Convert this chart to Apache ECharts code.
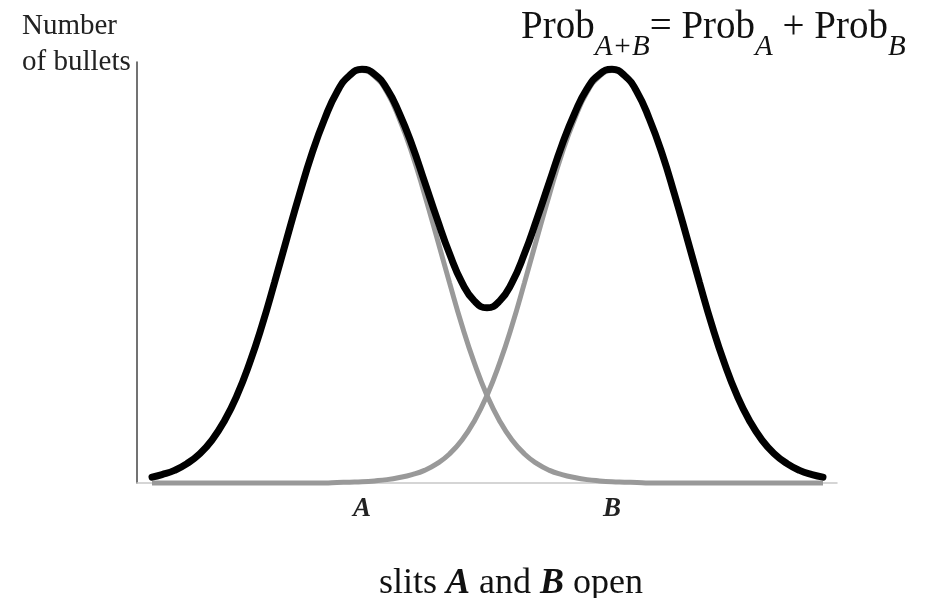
<!DOCTYPE html>
<html>
<head>
<meta charset="utf-8">
<style>
  html, body { margin: 0; padding: 0; background: #fff; }
  #chart { width: 926px; height: 598px; }
</style>
<script src="https://cdn.jsdelivr.net/npm/echarts@6.0.0/dist/echarts.min.js"></script>
</head>
<body>
<div id="chart"></div>
<script>
// positions along the screen (arbitrary units, 0..700)
var xPos = [15, 25, 37.5, 50, 62.5, 75, 87.5, 100, 112.5, 125, 137.5, 150, 162.5, 175,
  187.5, 200, 212.5, 225, 237.5, 250, 262.5, 275, 287.5, 300, 312.5, 325, 337.5, 350,
  362.5, 375, 387.5, 400, 412.5, 425, 437.5, 450, 462.5, 475, 487.5, 500, 512.5, 525,
  537.5, 550, 562.5, 575, 587.5, 600, 612.5, 625, 637.5, 650, 662.5, 675, 686];

// only slit A open
var slitA = [1.4, 2.0, 3.0, 4.6, 6.9, 10.2, 14.8, 20.8, 28.4, 37.4, 47.6, 58.2, 68.6, 78.3,
  86.4, 92.8, 96.6, 98, 96.6, 92.8, 86.4, 78.3, 68.6, 58.2, 47.6, 37.4, 28.4, 20.8,
  14.8, 10.2, 6.9, 4.6, 3.0, 2.0, 1.3, 0.8, 0.5, 0.3, 0.2, 0.1, 0, 0,
  0, 0, 0, 0, 0, 0, 0, 0, 0, 0, 0, 0, 0];

// only slit B open
var slitB = [0, 0, 0, 0, 0, 0, 0, 0, 0, 0, 0, 0, 0, 0,
  0, 0.1, 0.2, 0.3, 0.5, 0.8, 1.3, 2.0, 3.0, 4.6, 6.9, 10.2, 14.8, 20.8,
  28.4, 37.4, 47.6, 58.2, 68.6, 78.3, 86.4, 92.8, 96.6, 98, 96.6, 92.8, 86.4, 78.3,
  68.6, 58.2, 47.6, 37.4, 28.4, 20.8, 14.8, 10.2, 6.9, 4.6, 3.0, 2.0, 1.4];

// both slits open
var bothOpen = [1.4, 2.0, 3.0, 4.6, 6.9, 10.2, 14.8, 20.8, 28.4, 37.4, 47.6, 58.2, 68.6, 78.3,
  86.4, 92.9, 96.8, 98.3, 97.1, 93.6, 87.7, 80.3, 71.6, 62.8, 54.5, 47.6, 43.2, 41.6,
  43.2, 47.6, 54.5, 62.8, 71.6, 80.3, 87.7, 93.6, 97.1, 98.3, 96.8, 92.9, 86.4, 78.3,
  68.6, 58.2, 47.6, 37.4, 28.4, 20.8, 14.8, 10.2, 6.9, 4.6, 3.0, 2.0, 1.4];

var xTickValues = [225, 475];
var xTickLabels = ['A', 'B'];

var serif = 'Liberation Serif';

function pairs(ys) {
  return xPos.map(function (x, i) { return [x, ys[i]]; });
}

var chartDom = document.getElementById('chart');
var myChart = echarts.init(chartDom);
var option;

option = {
  animation: false,
  title: [
    {
      text: 'Number\nof bullets',
      left: 17,
      top: 3,
      textStyle: {
        fontFamily: serif,
        fontSize: 29,
        fontWeight: 'normal',
        lineHeight: 36,
        color: '#222'
      }
    },
    {
      text: '{n|Prob}{s|A+B}{n|= Prob}{s|A}{n| + Prob}{s|B}',
      left: 516,
      top: 3,
      textStyle: {
        rich: {
          n: { fontFamily: serif, fontSize: 39, fontWeight: 'normal', lineHeight: 44, color: '#111',
            verticalAlign: 'top' },
          s: { fontFamily: serif, fontSize: 29, fontWeight: 'normal', fontStyle: 'italic', lineHeight: 30,
            color: '#111', padding: [25, 0, 0, 0], verticalAlign: 'top' }
        }
      }
    },
    {
      text: '{r|slits }{b|A}{r| and }{b|B}{r| open}',
      left: 374,
      top: 559,
      textStyle: {
        rich: {
          r: { fontFamily: serif, fontSize: 36, fontWeight: 'normal', lineHeight: 40, color: '#111' },
          b: { fontFamily: serif, fontSize: 36, lineHeight: 40, fontWeight: 'bold', fontStyle: 'italic',
            color: '#111' }
        }
      }
    }
  ],
  grid: {
    left: 137,
    right: 89,
    top: 62,
    bottom: 115
  },
  xAxis: {
    type: 'value',
    min: 0,
    max: 700,
    axisLine: { lineStyle: { color: '#c8c8c8', width: 1.5 } },
    axisTick: { show: false },
    splitLine: { show: false },
    axisLabel: {
      customValues: xTickValues,
      formatter: function (v) { return xTickLabels[xTickValues.indexOf(v)]; },
      fontFamily: serif,
      fontSize: 27,
      fontWeight: 'bold',
      fontStyle: 'italic',
      color: '#222',
      margin: 13
    }
  },
  yAxis: {
    type: 'value',
    min: 0,
    max: 100,
    axisLine: { show: true, lineStyle: { color: '#444', width: 1.5 } },
    axisTick: { show: false },
    axisLabel: { show: false },
    splitLine: { show: false }
  },
  series: [
    {
      name: 'A',
      type: 'line',
      data: pairs(slitA),
      smooth: true,
      symbol: 'none',
      clip: false,
      lineStyle: { color: '#999', width: 5 }
    },
    {
      name: 'B',
      type: 'line',
      data: pairs(slitB),
      smooth: true,
      symbol: 'none',
      clip: false,
      lineStyle: { color: '#999', width: 5 }
    },
    {
      name: 'A+B',
      type: 'line',
      data: pairs(bothOpen),
      smooth: true,
      symbol: 'none',
      clip: false,
      lineStyle: { color: '#000', width: 7, cap: 'round' }
    }
  ]
};

option && myChart.setOption(option);
</script>
</body>
</html>
